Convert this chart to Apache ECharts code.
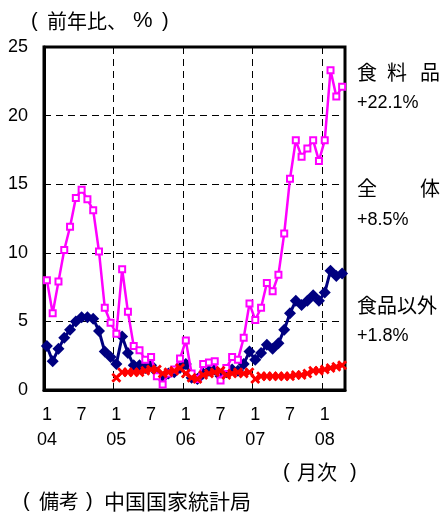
<!DOCTYPE html>
<html>
<head>
<meta charset="utf-8">
<script src="https://cdn.jsdelivr.net/npm/echarts@6/dist/echarts.min.js"></script>
<style>
html,body{margin:0;padding:0;background:#fff;}
#c{width:442px;height:516px;}
</style>
</head>
<body>
<div id="c"></div>
<script>
// Monthly categories Jan 2004 – Apr 2008
var categories = [
 '2004-01','2004-02','2004-03','2004-04','2004-05','2004-06','2004-07','2004-08','2004-09','2004-10','2004-11','2004-12',
 '2005-01','2005-02','2005-03','2005-04','2005-05','2005-06','2005-07','2005-08','2005-09','2005-10','2005-11','2005-12',
 '2006-01','2006-02','2006-03','2006-04','2006-05','2006-06','2006-07','2006-08','2006-09','2006-10','2006-11','2006-12',
 '2007-01','2007-02','2007-03','2007-04','2007-05','2007-06','2007-07','2007-08','2007-09','2007-10','2007-11','2007-12',
 '2008-01','2008-02','2008-03','2008-04'
];
// 全体 (overall CPI, yoy %)
var overall = [
 3.2, 2.1, 3.0, 3.8, 4.4, 5.0, 5.3, 5.3, 5.2, 4.3, 2.8, 2.4,
 1.9, 3.9, 2.7, 1.8, 1.8, 1.6, 1.8, 1.3, 0.9, 1.2, 1.3, 1.6,
 1.9, 0.9, 0.8, 1.2, 1.4, 1.5, 1.0, 1.3, 1.5, 1.4, 1.9, 2.8,
 2.2, 2.7, 3.3, 3.0, 3.4, 4.4, 5.6, 6.5, 6.2, 6.5, 6.9, 6.5,
 7.1, 8.7, 8.3, 8.5
];
// 食料品 (food)
var food = [
 8.0, 5.6, 7.9, 10.2, 11.9, 14.0, 14.6, 13.9, 13.1, 10.1, 6.0, 4.9,
 4.1, 8.8, 5.7, 3.2, 2.9, 2.2, 2.4, 1.0, 0.4, 1.2, 1.5, 2.3,
 3.6, 1.2, 0.8, 1.9, 2.0, 2.1, 0.7, 1.6, 2.4, 2.2, 3.8, 6.3,
 5.1, 6.0, 7.8, 7.2, 8.4, 11.4, 15.4, 18.2, 17.0, 17.6, 18.2, 16.7,
 18.2, 23.3, 21.4, 22.1
];
// 食品以外 (non-food), starts Jan 2005
var nonFood = [
 null, null, null, null, null, null, null, null, null, null, null, null,
 0.9, 1.3, 1.3, 1.3, 1.3, 1.4, 1.5, 1.5, 1.2, 1.3, 1.4, 1.6,
 1.2, 0.9, 0.8, 1.1, 1.2, 1.3, 1.4, 1.1, 1.2, 1.3, 1.2, 1.3,
 0.8, 1.0, 1.0, 1.0, 1.0, 1.0, 1.0, 1.1, 1.1, 1.2, 1.4, 1.4,
 1.5, 1.6, 1.7, 1.8
];
var yTicks = [0, 5, 10, 15, 20, 25];

var CJK = '"Noto Sans CJK JP"';
var LAT = '"Liberation Sans", Arial';
var xPath = 'path://M0,2L2,0L5,3L8,0L10,2L7,5L10,8L8,10L5,7L2,10L0,8L3,5Z';

function txt(t, x, y, font, align) {
  return {type: 'text', x: x, y: y, silent: true,
    style: {text: t, font: font, fill: '#000', align: align || 'left', textAlign: align || 'left',
            verticalAlign: 'middle', textVerticalAlign: 'middle'}};
}

var chart = echarts.init(document.getElementById('c'), null, {renderer: 'canvas'});
chart.setOption({
  animation: false,
  backgroundColor: '#fff',
  grid: {left: 44, top: 47, width: 301, height: 343, show: true, borderColor: '#000', borderWidth: 3, backgroundColor: 'transparent'},
  xAxis: {
    type: 'category', data: categories, boundaryGap: true,
    axisLine: {show: true, lineStyle: {color: '#000', width: 3}},
    axisTick: {show: false, interval: function (i) { return i % 12 === 0; }},
    splitLine: {show: true, interval: function (i) { return i % 12 === 0 && i > 0; },
      lineStyle: {color: '#000', width: 1, type: [7, 5]}},
    axisLabel: {
      interval: function (i) { return i % 6 === 0; },
      margin: 13, color: '#000', fontSize: 18, fontFamily: LAT, lineHeight: 25,
      formatter: function (v) {
        var m = parseInt(v.slice(5), 10);
        return m === 1 ? m + '\n' + v.slice(2, 4) : String(m);
      }
    }
  },
  yAxis: {
    type: 'value', min: yTicks[0], max: yTicks[yTicks.length - 1], interval: 5,
    axisLine: {show: true, lineStyle: {color: '#000', width: 3}},
    axisTick: {show: false},
    splitLine: {show: true, lineStyle: {color: '#000', width: 1, type: [7, 5]}},
    axisLabel: {margin: 16, color: '#000', fontSize: 18, fontFamily: LAT}
  },
  series: [
    {name: '全体', type: 'line', data: overall, symbol: 'diamond', symbolSize: [12, 12], showAllSymbol: true,
     lineStyle: {color: '#000080', width: 3}, itemStyle: {color: '#000080'}, z: 2},
    {name: '食料品', type: 'line', data: food, symbol: 'rect', symbolSize: 6, showAllSymbol: true,
     lineStyle: {color: '#FF00FF', width: 2.5}, itemStyle: {color: '#fff', borderColor: '#FF00FF', borderWidth: 2}, z: 3},
    {name: '食品以外', type: 'line', data: nonFood, symbol: xPath, symbolSize: 10, showAllSymbol: true,
     lineStyle: {color: '#FF0000', width: 2.5}, itemStyle: {color: '#FF0000'}, z: 4}
  ],
  graphic: [
    txt('(', 31, 21, '20px ' + LAT),
    txt('前年比、', 47, 21, '20px ' + CJK),
    txt('%', 133, 21, '22px ' + LAT),
    txt(')', 162, 21, '20px ' + LAT),
    txt('食', 357, 72, '20px ' + CJK),
    txt('料', 387, 72, '20px ' + CJK),
    txt('品', 420, 72, '20px ' + CJK),
    txt('+22.1%', 357, 103, '18px ' + LAT),
    txt('全', 357, 188, '20px ' + CJK),
    txt('体', 420, 188, '20px ' + CJK),
    txt('+8.5%', 357, 220, '18px ' + LAT),
    txt('食品以外', 357, 305, '20px ' + CJK),
    txt('+1.8%', 357, 336, '18px ' + LAT),
    txt('(', 283, 472, '20px ' + LAT),
    txt('月次', 297, 472, '20px ' + CJK),
    txt(')', 350, 472, '20px ' + LAT),
    txt('(', 23, 501, '20px ' + LAT),
    txt('備考', 39, 501, '20px ' + CJK),
    txt(')', 86, 501, '20px ' + LAT),
    txt('中国国家統計局', 104, 501, '21px ' + CJK)
  ]
});
</script>
</body>
</html>
